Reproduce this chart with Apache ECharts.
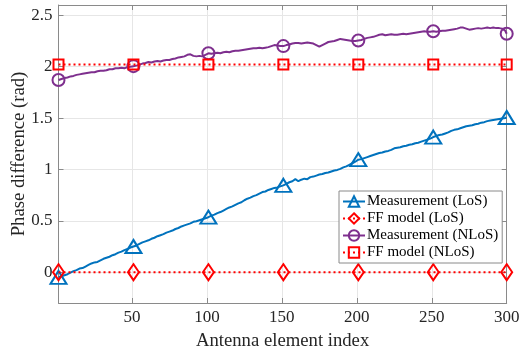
<!DOCTYPE html>
<html>
<head>
<meta charset="utf-8">
<script src="https://cdn.jsdelivr.net/npm/echarts@6/dist/echarts.min.js"></script>
<style>html,body{margin:0;padding:0;background:#fff;}#c{width:528px;height:355px;}</style>
</head>
<body>
<div id="c"></div>
<script>
// Element indices (1,3,5,...,299,300)
const elementIndex = [];
for (let i = 1; i <= 299; i += 2) elementIndex.push(i);
elementIndex.push(300);

const markerIndex = [1, 51, 101, 151, 201, 251, 300];
const xTicks = [50, 100, 150, 200, 250, 300];
const yTicks = [0, 0.5, 1, 1.5, 2, 2.5];

const seriesNames = ['Measurement (LoS)', 'FF model (LoS)', 'Measurement (NLoS)', 'FF model (NLoS)'];

const measLoS = [
-0.05,-0.04,-0.03,-0.02,-0.005,0.01,0.02,0.035,0.04,0.055,
0.07,0.085,0.095,0.10,0.115,0.13,0.14,0.15,0.165,0.175,
0.19,0.20,0.215,0.225,0.24,0.25,0.26,0.275,0.29,0.30,
0.31,0.325,0.335,0.35,0.36,0.37,0.385,0.395,0.405,0.42,
0.43,0.445,0.455,0.465,0.475,0.49,0.495,0.505,0.515,0.525,
0.535,0.55,0.56,0.575,0.585,0.60,0.615,0.63,0.64,0.655,
0.67,0.68,0.70,0.715,0.725,0.74,0.75,0.765,0.78,0.785,
0.80,0.81,0.82,0.825,0.835,0.845,0.86,0.875,0.885,0.905,
0.885,0.90,0.91,0.905,0.925,0.93,0.94,0.95,0.955,0.965,
0.97,0.98,0.99,0.995,1.005,1.02,1.03,1.045,1.06,1.075,
1.095,1.10,1.11,1.12,1.13,1.14,1.15,1.16,1.165,1.175,
1.18,1.19,1.205,1.21,1.215,1.225,1.23,1.24,1.245,1.255,
1.26,1.27,1.28,1.29,1.30,1.315,1.325,1.335,1.34,1.35,
1.36,1.375,1.385,1.39,1.40,1.41,1.42,1.425,1.43,1.44,
1.445,1.455,1.46,1.47,1.475,1.48,1.485,1.49,1.495,1.50,
1.505];

const measNLoS = [
1.87,1.88,1.89,1.895,1.905,1.91,1.92,1.925,1.93,1.935,
1.94,1.945,1.945,1.955,1.96,1.96,1.965,1.975,1.975,1.985,
1.985,1.99,1.985,1.995,2.00,2.005,2.01,2.02,2.03,2.035,
2.045,2.04,2.05,2.055,2.05,2.06,2.065,2.065,2.075,2.08,
2.09,2.095,2.10,2.115,2.12,2.105,2.10,2.105,2.10,2.115,
2.13,2.125,2.13,2.135,2.13,2.14,2.145,2.14,2.15,2.155,
2.155,2.16,2.165,2.17,2.175,2.18,2.18,2.185,2.18,2.185,
2.19,2.20,2.21,2.205,2.20,2.20,2.21,2.215,2.225,2.23,
2.23,2.225,2.23,2.235,2.23,2.225,2.21,2.195,2.21,2.225,
2.24,2.245,2.25,2.26,2.27,2.265,2.26,2.255,2.25,2.25,
2.255,2.26,2.27,2.28,2.285,2.29,2.30,2.31,2.315,2.305,
2.31,2.315,2.31,2.31,2.315,2.32,2.315,2.32,2.325,2.33,
2.335,2.34,2.345,2.34,2.34,2.345,2.34,2.345,2.35,2.35,
2.355,2.36,2.365,2.37,2.38,2.38,2.37,2.36,2.365,2.37,
2.375,2.37,2.375,2.38,2.375,2.38,2.375,2.375,2.37,2.35,
2.32];

const ffLoS = [0, 0, 0, 0, 0, 0, 0];
const ffNLoS = [2.02, 2.02, 2.02, 2.02, 2.02, 2.02, 2.02];

const FONT = 'Liberation Serif';
const blue = '#0072BD', purple = '#7E2F8E', red = '#FF0000';
const axisGray = '#8a8a8a';

function measData(vals) {
  return elementIndex.map((x, i) => {
    const item = { value: [x, vals[i]] };
    if (markerIndex.indexOf(x) < 0) item.symbol = 'none';
    return item;
  });
}
function ffData(vals) {
  return markerIndex.map((x, i) => [x, vals[i]]);
}

const chart = echarts.init(document.getElementById('c'), null, { renderer: 'canvas' });
const frameAxis = {
  axisLine: { show: true, onZero: false, lineStyle: { color: axisGray, width: 1 } },
  axisLabel: { show: false },
  splitLine: { show: false }
};
chart.setOption({
  animation: false,
  backgroundColor: '#fff',
  textStyle: { fontFamily: FONT },
  grid: { left: 58.5, right: 21.3, top: 5, bottom: 52, containLabel: false, outerBoundsMode: 'none' },
  legend: {
    orient: 'vertical',
    left: 339, top: 191,
    padding: [3, 4, 3, 3],
    itemWidth: 22, itemHeight: 13, itemGap: 2,
    backgroundColor: '#fff',
    borderColor: axisGray, borderWidth: 1,
    selectedMode: false,
    textStyle: { fontFamily: FONT, fontSize: 15, color: '#000', padding: [0, 0, 0, -3] },
    data: seriesNames
  },
  xAxis: [{
    type: 'value', min: 1, max: 300,
    name: 'Antenna element index', nameLocation: 'middle', nameGap: 28.5, nameMoveOverlap: false,
    nameTextStyle: { fontFamily: FONT, fontSize: 18.7, color: '#262626' },
    axisLine: { show: true, onZero: false, lineStyle: { color: axisGray, width: 1 } },
    axisTick: { show: true, inside: true, length: 5, customValues: xTicks, lineStyle: { color: axisGray } },
    axisLabel: { customValues: xTicks, fontFamily: FONT, fontSize: 17, color: '#262626', margin: 6 },
    splitLine: { show: true, lineStyle: { color: '#e6e6e6', width: 1 } }
  }, Object.assign({
    type: 'value', min: 1, max: 300, position: 'top',
    axisTick: { show: true, inside: true, length: 5, customValues: xTicks, lineStyle: { color: axisGray } }
  }, frameAxis)],
  yAxis: [{
    type: 'value', min: -0.3, max: 2.6,
    name: 'Phase difference (rad)', nameLocation: 'middle', nameGap: 30, nameMoveOverlap: false,
    nameTextStyle: { fontFamily: FONT, fontSize: 18.7, color: '#262626' },
    axisLine: { show: true, onZero: false, lineStyle: { color: axisGray, width: 1 } },
    axisTick: { show: true, inside: true, length: 5, customValues: yTicks, lineStyle: { color: axisGray } },
    axisLabel: { customValues: yTicks, fontFamily: FONT, fontSize: 17, color: '#262626', margin: 6 },
    splitLine: { show: true, lineStyle: { color: '#e6e6e6', width: 1 } }
  }, Object.assign({
    type: 'value', min: -0.3, max: 2.6, position: 'right',
    axisTick: { show: true, inside: true, length: 5, customValues: yTicks, lineStyle: { color: axisGray } }
  }, frameAxis)],
  series: [
    {
      name: seriesNames[0], type: 'line', data: measData(measLoS),
      symbol: 'triangle', symbolSize: [16, 13], showAllSymbol: true,
      lineStyle: { color: blue, width: 2 },
      itemStyle: { color: 'rgba(255,255,255,0)', borderColor: blue, borderWidth: 2 },
      emphasis: { disabled: true }, z: 2
    },
    {
      name: seriesNames[1], type: 'line', data: ffData(ffLoS),
      symbol: 'diamond', symbolSize: [11, 16], showAllSymbol: true,
      lineStyle: { color: red, width: 2, type: [2, 3] },
      itemStyle: { color: 'rgba(255,255,255,0)', borderColor: red, borderWidth: 2 },
      emphasis: { disabled: true }, z: 3
    },
    {
      name: seriesNames[2], type: 'line', data: measData(measNLoS),
      symbol: 'circle', symbolSize: 12, showAllSymbol: true,
      lineStyle: { color: purple, width: 2 },
      itemStyle: { color: 'rgba(255,255,255,0)', borderColor: purple, borderWidth: 2 },
      emphasis: { disabled: true }, z: 2
    },
    {
      name: seriesNames[3], type: 'line', data: ffData(ffNLoS),
      symbol: 'rect', symbolSize: 10, showAllSymbol: true,
      lineStyle: { color: red, width: 2, type: [2, 3] },
      itemStyle: { color: 'rgba(255,255,255,0)', borderColor: red, borderWidth: 2 },
      emphasis: { disabled: true }, z: 3
    }
  ]
});
</script>
</body>
</html>
